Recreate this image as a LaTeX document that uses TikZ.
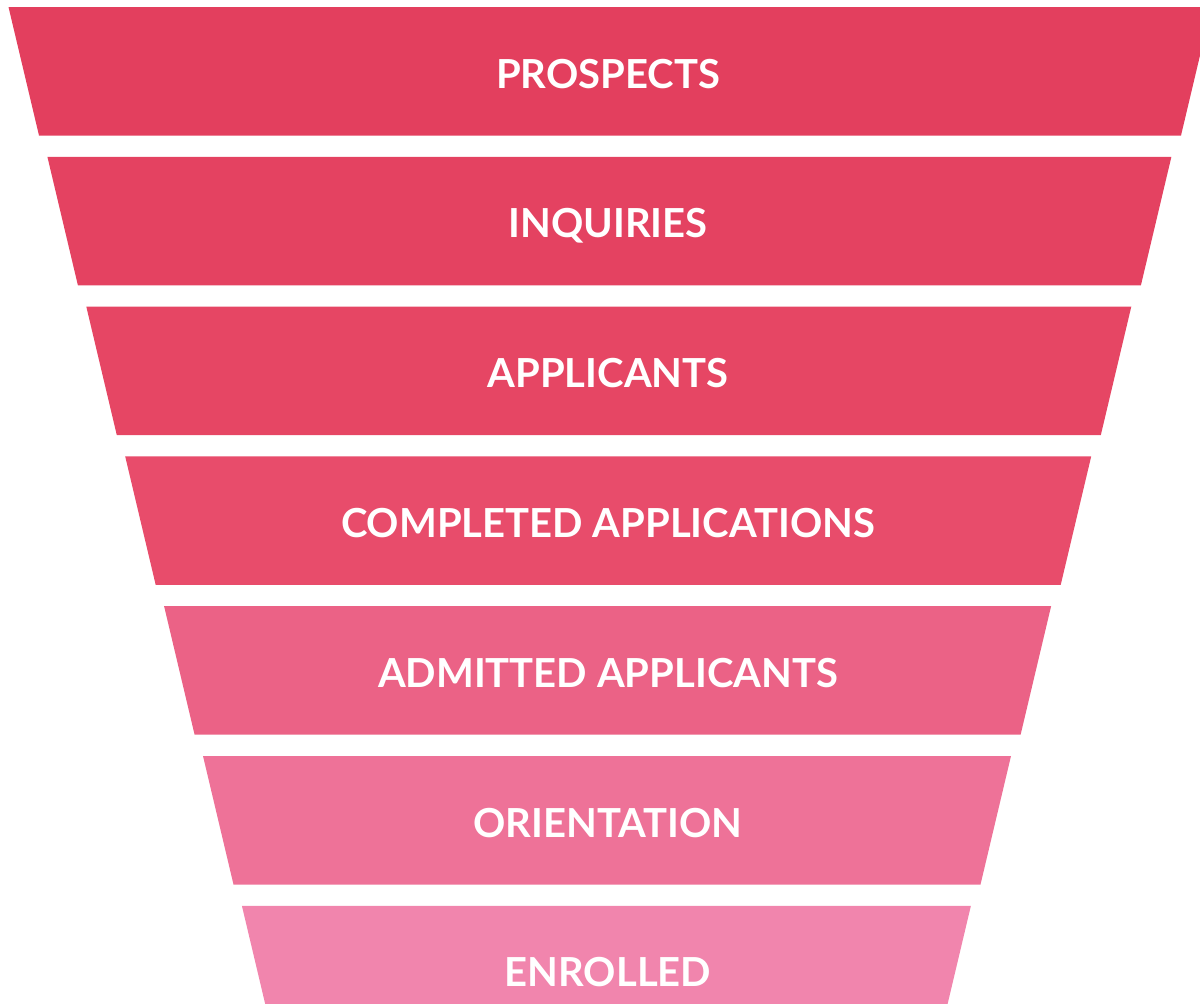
\documentclass[tikz,border=0pt]{standalone}
\usepackage{fontspec}
\setmainfont{Lato}
% stage colours, from deep crimson at the top to soft pink at the bottom
\definecolor{band0}{HTML}{E33F5E}
\definecolor{band1}{HTML}{E44261}
\definecolor{band2}{HTML}{E64664}
\definecolor{band3}{HTML}{E84C6B}
\definecolor{band4}{HTML}{EB6286}
\definecolor{band5}{HTML}{EE7298}
\definecolor{band6}{HTML}{F185AD}
\begin{document}
\begin{tikzpicture}[x=1pt,y=-1pt,
  stagelabel/.style={text=white,font=\bfseries\fontsize{40}{44}\selectfont,
    anchor=base,inner sep=0pt}]
\useasboundingbox (0,0) rectangle (1200,1004);
\clip (0,0) rectangle (1200,1004);
% each stage is a trapezoid narrowing towards the bottom
\foreach \k/\nm/\txt in {0/prospects/PROSPECTS,1/inquiries/INQUIRIES,
    2/applicants/APPLICANTS,3/completed/COMPLETED APPLICATIONS,
    4/admitted/ADMITTED APPLICANTS,5/orientation/ORIENTATION,6/enrolled/ENROLLED}{
  \pgfmathsetmacro\ytop{7+149.8*\k}
  \pgfmathsetmacro\ybot{\ytop+128.5}
  \pgfmathsetmacro\hwtop{601.5-39.5*\k}
  \pgfmathsetmacro\hwbot{571-39.5*\k}
  \pgfmathsetmacro\xmid{610-0.6*\k}
  \pgfmathsetmacro\ybase{\ytop+81}
  \fill[band\k] (\xmid-\hwtop,\ytop) -- (\xmid+\hwtop,\ytop)
     -- (\xmid+\hwbot,\ybot) -- (\xmid-\hwbot,\ybot) -- cycle;
  \node[stagelabel] (\nm) at (608,\ybase) {\txt};
}
\end{tikzpicture}
\end{document}
